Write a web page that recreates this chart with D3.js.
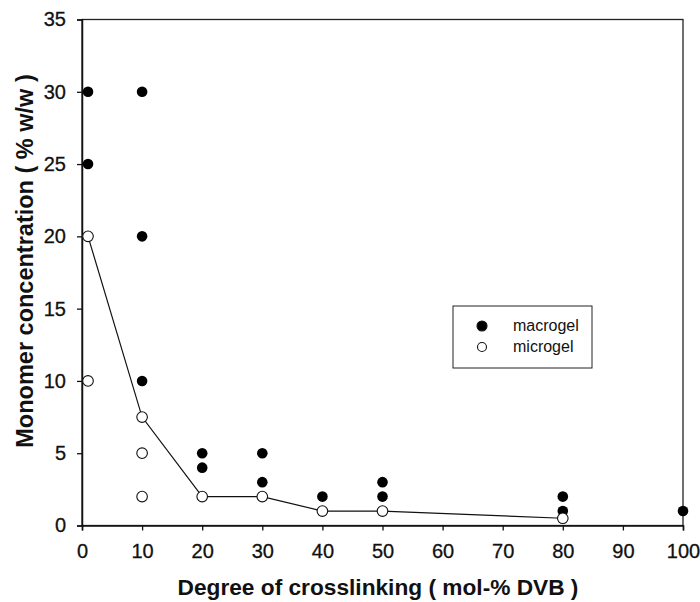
<!DOCTYPE html>
<html>
<head>
<meta charset="utf-8">
<script src="https://cdn.jsdelivr.net/npm/d3@7"></script>
<style>
  body { margin: 0; background: #fff; }
  svg { display: block; font-family: "Liberation Sans", Arial, sans-serif; }
</style>
</head>
<body>
<div id="chart"></div>
<script>
// crosslinking degree (mol-% DVB) and monomer concentration (% w/w)
const macroX = [1, 1, 10, 10, 10, 20, 20, 30, 30, 40, 50, 50, 80, 80, 100];
const macroY = [30, 25, 30, 20, 10, 5, 4, 5, 3, 2, 3, 2, 2, 1, 1];
const microX = [1, 1, 10, 10, 10, 20, 30, 40, 50, 80];
const microY = [20, 10, 7.5, 5, 2, 2, 2, 1, 1, 0.5];
// boundary line between gel types
const lineX = [1, 10, 20, 30, 40, 50, 80];
const lineY = [20, 7.5, 2, 2, 1, 1, 0.5];
const xTicks = [0, 10, 20, 30, 40, 50, 60, 70, 80, 90, 100];
const yTicks = [0, 5, 10, 15, 20, 25, 30, 35];

const width = 700, height = 602;
const svg = d3.select("#chart").append("svg")
  .attr("width", width).attr("height", height);

const x = d3.scaleLinear().domain([0, 100]).range([82, 683]);
const y = d3.scaleLinear().domain([0, 35]).range([525.5, 19.5]);

// frame
svg.append("rect")
  .attr("x", x(0)).attr("y", y(35))
  .attr("width", x(100) - x(0)).attr("height", y(0) - y(35))
  .attr("fill", "none").attr("stroke", "#222").attr("stroke-width", 1.3);

const xAxis = svg.append("g")
  .attr("transform", `translate(0,${y(0)})`)
  .call(d3.axisBottom(x).tickValues(xTicks).tickSize(5).tickPadding(13));
const yAxis = svg.append("g")
  .attr("transform", `translate(${x(0)},0)`)
  .call(d3.axisLeft(y).tickValues(yTicks).tickSize(5).tickPadding(11));

[xAxis, yAxis].forEach(g => {
  g.select(".domain").attr("stroke", "#111").attr("stroke-width", 1.5);
  g.selectAll(".tick line").attr("stroke", "#111").attr("stroke-width", 1.3);
  g.selectAll(".tick text")
    .attr("fill", "#111")
    .attr("stroke", "#111").attr("stroke-width", 0.3)
    .style("font-size", "20px")
    .style("font-family", "'Liberation Sans', Arial, sans-serif");
});

// microgel boundary line
svg.append("path")
  .datum(lineX.map((d, i) => [d, lineY[i]]))
  .attr("d", d3.line().x(d => x(d[0])).y(d => y(d[1])))
  .attr("fill", "none").attr("stroke", "#111").attr("stroke-width", 1.2);

svg.append("g").selectAll("circle")
  .data(macroX.map((d, i) => [d, macroY[i]]))
  .enter().append("circle")
  .attr("cx", d => x(d[0])).attr("cy", d => y(d[1]))
  .attr("r", 5.3).attr("fill", "#000");

svg.append("g").selectAll("circle")
  .data(microX.map((d, i) => [d, microY[i]]))
  .enter().append("circle")
  .attr("cx", d => x(d[0])).attr("cy", d => y(d[1]))
  .attr("r", 5.3).attr("fill", "#fff").attr("stroke", "#111").attr("stroke-width", 1.1);

// legend
const legend = svg.append("g").attr("transform", "translate(453,306)");
legend.append("rect")
  .attr("width", 139).attr("height", 62)
  .attr("fill", "#fff").attr("stroke", "#222").attr("stroke-width", 1);
const keys = ["macrogel", "microgel"];
keys.forEach((k, i) => {
  legend.append("circle")
    .attr("cx", 29).attr("cy", 20 + i * 21).attr("r", i === 0 ? 5 : 4.5)
    .attr("fill", i === 0 ? "#000" : "#fff")
    .attr("stroke", "#111").attr("stroke-width", 1.1);
  legend.append("text")
    .attr("x", 60).attr("y", 25 + i * 21)
    .style("font-size", "16px").attr("fill", "#111")
    .text(k);
});

// axis titles
svg.append("text")
  .attr("x", 378).attr("y", 595)
  .attr("text-anchor", "middle")
  .style("font-size", "22.7px").style("font-weight", "bold").attr("fill", "#111")
  .text("Degree of crosslinking ( mol-% DVB )");

svg.append("text")
  .attr("transform", "translate(33,261) rotate(-90)")
  .attr("text-anchor", "middle")
  .style("font-size", "23.5px").style("font-weight", "bold").attr("fill", "#111")
  .text("Monomer concentration ( % w/w )");
</script>
</body>
</html>
